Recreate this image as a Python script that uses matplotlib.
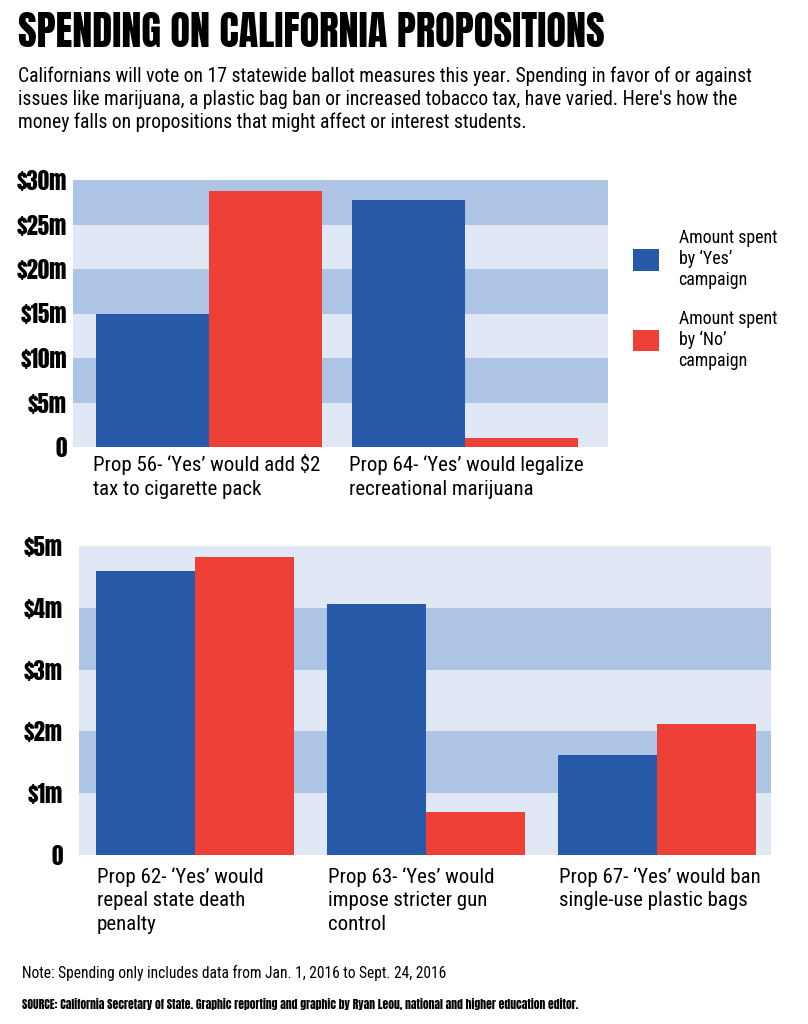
import matplotlib
matplotlib.use('Agg')
import matplotlib.pyplot as plt
from matplotlib.patches import Patch

# data (millions of dollars)
top_labels = [['Prop 56- \u2018Yes\u2019 would add $2', 'tax to cigarette pack'],
              ['Prop 64- \u2018Yes\u2019 would legalize', 'recreational marijuana']]
top_yes = [14.9, 27.8]
top_no = [28.8, 1.0]
top_ticks = [0, 5, 10, 15, 20, 25, 30]
top_ticklabels = ['0', '$5m', '$10m', '$15m', '$20m', '$25m', '$30m']

bottom_labels = [['Prop 62- \u2018Yes\u2019 would', 'repeal state death', 'penalty'],
                 ['Prop 63- \u2018Yes\u2019 would', 'impose stricter gun', 'control'],
                 ['Prop 67- \u2018Yes\u2019 would ban', 'single-use plastic bags']]
bottom_yes = [4.6, 4.06, 1.62]
bottom_no = [4.83, 0.69, 2.12]
bottom_ticks = [0, 1, 2, 3, 4, 5]
bottom_ticklabels = ['0', '$1m', '$2m', '$3m', '$4m', '$5m']

subtitle = ['Californians will vote on 17 statewide ballot measures this year. Spending in favor of or against',
            'issues like marijuana, a plastic bag ban or increased tobacco tax, have varied. Here\'s how the',
            'money falls on propositions that might affect or interest students.']

BLUE = '#2659a8'
RED = '#ee4036'
BAND_DARK = '#aec4e5'
BAND_LIGHT = '#e1e8f5'

HEAVY = ['Anton', 'Oswald', 'Roboto Condensed', 'DejaVu Sans']
BODY = ['Roboto Condensed', 'Archivo Narrow', 'DejaVu Sans']

W, H = 808, 1024
fig = plt.figure(figsize=(W / 100, H / 100), dpi=100)
renderer = fig.canvas.get_renderer()


def size_for(text, target_px, **kw):
    '''
    Font size that makes text span target_px pixels wide
    '''
    t = fig.text(0, 0, text, fontsize=10, **kw)
    w = t.get_window_extent(renderer=renderer).width
    t.remove()
    return 10 * target_px / w


def fig_lines(x_px, base_px, lines, step_px, **kw):
    for i, line in enumerate(lines):
        fig.text(x_px / W, 1 - (base_px + i * step_px) / H, line, ha='left', va='baseline', **kw)


def draw_panel(ax, yes, no, labels, ticks, ticklabels, width, xlim, pad, tick_size,
               label_size, first_px, step_px, dx_px):
    '''
    Draws one grouped bar panel with striped background
    '''
    step = ticks[1] - ticks[0]
    for i in range(len(ticks) - 1):
        # bottom band light, then alternating
        ax.axhspan(ticks[i], ticks[i] + step, color=BAND_DARK if i % 2 else BAND_LIGHT,
                   lw=0, zorder=0)
    xs = list(range(len(yes)))
    ax.bar([x - width / 2 for x in xs], yes, width, color=BLUE, zorder=2)
    ax.bar([x + width / 2 for x in xs], no, width, color=RED, zorder=2)
    ax.set_xlim(*xlim)
    ax.set_ylim(ticks[0], ticks[-1])
    ax.set_yticks(ticks)
    ax.set_yticklabels(ticklabels, fontsize=tick_size, family=HEAVY)
    ax.tick_params(axis='y', length=0, pad=pad)
    ax.set_xticks([])
    for s in ax.spines.values():
        s.set_visible(False)
    for x, lab in zip(xs, labels):
        for i, line in enumerate(lab):
            ax.annotate(line, xy=(x - width, 0), xycoords=('data', 'axes fraction'),
                        xytext=(dx_px * 0.72, -(first_px + i * step_px) * 0.72),
                        textcoords='offset points', ha='left', va='baseline',
                        fontsize=label_size, family=BODY)


# header
title = 'SPENDING ON CALIFORNIA PROPOSITIONS'
fig_lines(18, 47, [title], 0, fontsize=size_for(title, 581, family=HEAVY), family=HEAVY)
sub_size = size_for(subtitle[0], 731, family=BODY)
fig_lines(18, 82, subtitle, 23, fontsize=sub_size, family=BODY)

tick_size = size_for('$25m', 50, family=HEAVY)
label_size = size_for(top_labels[0][0], 227, family=BODY)

ax1 = fig.add_axes([73 / W, 1 - 447 / H, 535 / W, 267 / H])
draw_panel(ax1, top_yes, top_no, top_labels, top_ticks, top_ticklabels,
           0.441, (-0.531, 1.559), 4.3, tick_size, label_size, 24, 24, -3)

ax2 = fig.add_axes([79 / W, 1 - 855 / H, 692 / W, 309 / H])
draw_panel(ax2, bottom_yes, bottom_no, bottom_labels, bottom_ticks, bottom_ticklabels,
           0.4286, (-0.502, 2.494), 11.5, tick_size, label_size, 28, 23.5, 1)

legend_size = size_for('Amount spent', 98, family=BODY)
handles = [Patch(facecolor=BLUE), Patch(facecolor=RED)]
fig.legend(handles, ['Amount spent\nby \u2018Yes\u2019\ncampaign', 'Amount spent\nby \u2018No\u2019\ncampaign'],
           loc='upper left', bbox_to_anchor=(633 / W, 1 - 229 / H),
           frameon=False, prop={'family': BODY, 'size': legend_size},
           handlelength=1.45, handleheight=1.45, handletextpad=1.1, labelspacing=1.15,
           borderpad=0, borderaxespad=0)

# footer
note = 'Note: Spending only includes data from Jan. 1, 2016 to Sept. 24, 2016'
fig_lines(22, 978, [note], 0, fontsize=size_for(note, 425, family=BODY), family=BODY)
source = ('SOURCE: California Secretary of State. Graphic reporting and graphic by Ryan Leou, '
          'national and higher education editor.')
fig_lines(22, 1009, [source], 0, fontsize=size_for(source, 559, family=HEAVY), family=HEAVY)

fig.savefig('out.png', dpi=100, facecolor='white')
